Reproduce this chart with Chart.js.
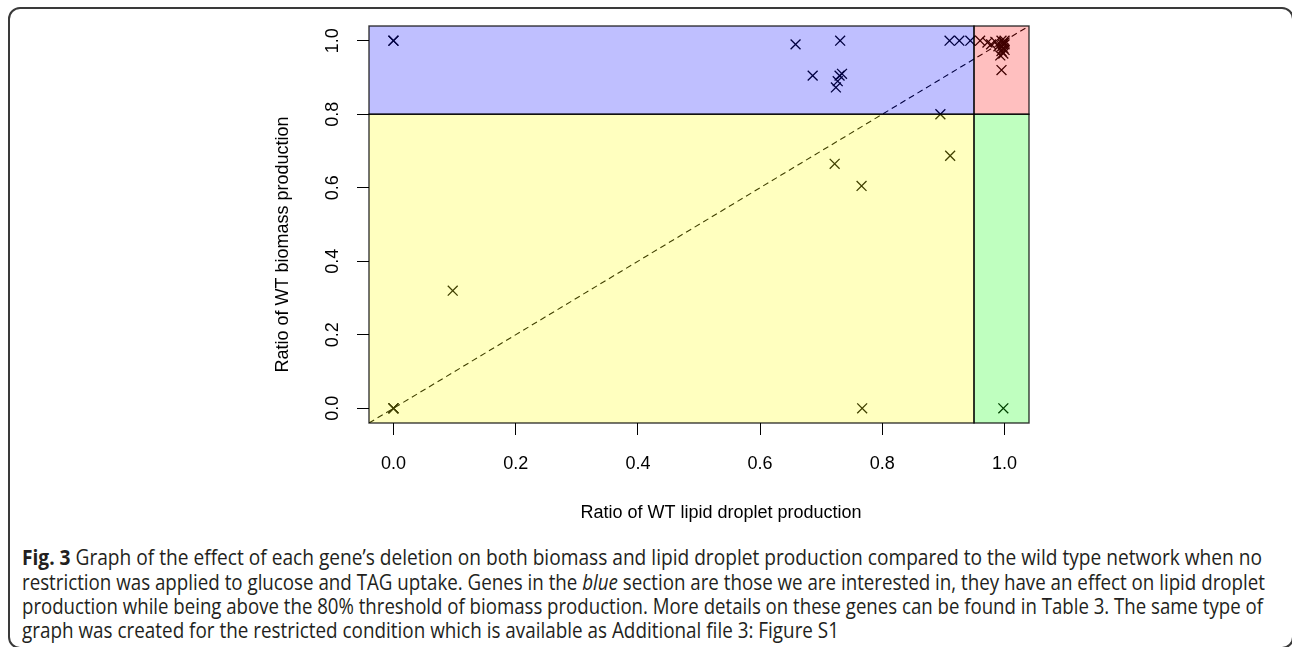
<!DOCTYPE html>
<html><head><meta charset="utf-8">
<script src="https://cdn.jsdelivr.net/npm/chart.js@4"></script>
<style>
html,body{margin:0;padding:0;background:#fff;}
body{width:1292px;height:647px;position:relative;overflow:hidden;}
#frame{position:absolute;left:8px;top:7px;width:1286px;height:642px;border:2px solid #3a3a3a;border-radius:12px;box-sizing:border-box;}
#c{position:absolute;left:0;top:0;}
.cap{position:absolute;left:22px;white-space:nowrap;font-family:"Open Sans";font-size:21px;color:#231f20;transform-origin:0 50%;line-height:24px;}
.cap b{font-weight:700;}
</style></head>
<body>
<div id="frame"></div>
<canvas id="c" width="1292" height="530"></canvas>
<div class="cap" style="top:545px"><b>Fig. 3</b> Graph of the effect of each gene’s deletion on both biomass and lipid droplet production compared to the wild type network when no</div>
<div class="cap" style="top:570px">restriction was applied to glucose and TAG uptake. Genes in the <i>blue</i> section are those we are interested in, they have an effect on lipid droplet</div>
<div class="cap" style="top:594px">production while being above the 80% threshold of biomass production. More details on these genes can be found in Table 3. The same type of</div>
<div class="cap" style="top:618px">graph was created for the restricted condition which is available as Additional file 3: Figure S1</div>
<script>
// ---- data ----
const lipidRatio = [0.0, 0.0, 0.0, 0.0, 0.0, 0.097, 0.658, 0.686, 0.731, 0.724, 0.727, 0.730, 0.734, 0.722, 0.766, 0.767, 0.998, 0.895, 0.911,
  0.910, 0.926, 0.944, 0.960, 0.972, 0.978, 0.985, 0.990, 0.995, 0.997, 0.998, 1.000, 1.000, 0.998, 0.995, 1.000, 0.993, 0.995, 1.000, 0.996];
const biomassRatio = [1.0, 1.0, 0.0, 0.0, 0.0, 0.320, 0.990, 0.905, 1.000, 0.873, 0.890, 0.905, 0.910, 0.665, 0.605, 0.000, 0.000, 0.800, 0.687,
  1.000, 1.000, 1.000, 1.000, 0.995, 0.990, 0.997, 0.985, 1.000, 0.990, 0.980, 1.000, 0.975, 0.965, 0.972, 0.990, 0.960, 0.920, 0.995, 0.985];
const diagX = [-0.04, 1.04];
const diagY = [-0.04, 1.04];
const lipidThreshold = 0.95;
const biomassThreshold = 0.8;
const axisMin = -0.04, axisMax = 1.04;
const xTickValues = [0, 0.2, 0.4, 0.6, 0.8, 1.0];
const xTickLabels = ["0.0", "0.2", "0.4", "0.6", "0.8", "1.0"];
const yTickValues = [0, 0.2, 0.4, 0.6, 0.8, 1.0];
const yTickLabels = ["0.0", "0.2", "0.4", "0.6", "0.8", "1.0"];
const xTitle = "Ratio of WT lipid droplet production";
const yTitle = "Ratio of WT biomass production";
const capWidths = [1240, 1243, 1241, 817];

const FONT = '"Liberation Sans", Arial, sans-serif';

const regions = [
  {x0: axisMin, x1: lipidThreshold, y0: biomassThreshold, y1: axisMax, color: 'rgba(0,0,255,0.25)'},
  {x0: axisMin, x1: lipidThreshold, y0: axisMin, y1: biomassThreshold, color: 'rgba(255,255,0,0.25)'},
  {x0: lipidThreshold, x1: axisMax, y0: biomassThreshold, y1: axisMax, color: 'rgba(255,0,0,0.25)'},
  {x0: lipidThreshold, x1: axisMax, y0: axisMin, y1: biomassThreshold, color: 'rgba(0,255,0,0.25)'}
];

const overlay = {
  id: 'overlay',
  afterDatasetsDraw(chart) {
    const {ctx, scales: {x, y}, chartArea: ca} = chart;
    ctx.save();
    regions.forEach(r => {
      const px0 = x.getPixelForValue(r.x0), px1 = x.getPixelForValue(r.x1);
      const py0 = y.getPixelForValue(r.y0), py1 = y.getPixelForValue(r.y1);
      ctx.fillStyle = r.color;
      ctx.fillRect(px0, py1, px1 - px0, py0 - py1);
    });
    ctx.strokeStyle = 'rgba(0,0,0,0.78)';
    ctx.lineWidth = 1.4;
    regions.forEach(r => {
      const px0 = x.getPixelForValue(r.x0), px1 = x.getPixelForValue(r.x1);
      const py0 = y.getPixelForValue(r.y0), py1 = y.getPixelForValue(r.y1);
      ctx.strokeRect(px0, py1, px1 - px0, py0 - py1);
    });
    // rotated y tick labels
    ctx.fillStyle = '#000';
    ctx.font = '18px ' + FONT;
    ctx.textAlign = 'center';
    ctx.textBaseline = 'middle';
    yTickValues.forEach((v, i) => {
      const py = y.getPixelForValue(v);
      ctx.save();
      ctx.translate(x.left - 36, py);
      ctx.rotate(-Math.PI / 2);
      ctx.fillText(yTickLabels[i], 0, 0);
      ctx.restore();
    });
    // axis titles
    ctx.fillText(xTitle, (ca.left + ca.right) / 2 + 22, ca.bottom + 90);
    ctx.save();
    ctx.translate(ca.left - 86, (ca.top + ca.bottom) / 2 + 20);
    ctx.rotate(-Math.PI / 2);
    ctx.fillText(yTitle, 0, 0);
    ctx.restore();
    ctx.restore();
  }
};

const points = lipidRatio.map((v, i) => ({x: v, y: biomassRatio[i]}));
const diag = diagX.map((v, i) => ({x: v, y: diagY[i]}));

new Chart(document.getElementById('c'), {
  type: 'scatter',
  data: {
    datasets: [
      {data: points, pointStyle: 'crossRot', pointRadius: 7, pointHoverRadius: 7, borderColor: '#000', backgroundColor: '#000', pointBorderWidth: 1.3, order: 2},
      {type: 'line', data: diag, borderColor: '#000', borderWidth: 1.1, borderDash: [6, 4], pointRadius: 0, fill: false, order: 1}
    ]
  },
  options: {
    responsive: false,
    animation: false,
    devicePixelRatio: 1,
    layout: {padding: {left: 265, top: 26, right: 263, bottom: 0}},
    plugins: {legend: {display: false}, tooltip: {enabled: false}},
    scales: {
      x: {
        type: 'linear', min: axisMin, max: axisMax,
        afterBuildTicks: s => { s.ticks = xTickValues.map(v => ({value: v})); },
        afterFit: s => { s.height = 107; },
        ticks: {callback: (v) => xTickLabels[xTickValues.indexOf(v)] ?? '', font: {family: FONT, size: 18}, color: '#000', padding: 18, maxRotation: 0, autoSkip: false},
        grid: {drawOnChartArea: false, drawTicks: true, tickLength: 12, color: '#000', lineWidth: 1},
        border: {display: false},
        title: {display: false}
      },
      y: {
        type: 'linear', min: axisMin, max: axisMax,
        afterBuildTicks: s => { s.ticks = yTickValues.map(v => ({value: v})); },
        afterFit: s => { s.width = 104; },
        ticks: {display: false},
        grid: {drawOnChartArea: false, drawTicks: true, tickLength: 12, color: '#000', lineWidth: 1},
        border: {display: false},
        title: {display: false}
      }
    }
  },
  plugins: [overlay]
});

document.querySelectorAll('.cap').forEach((el, i) => {
  const w = el.getBoundingClientRect().width;
  el.style.transform = 'scaleX(' + (capWidths[i] / w) + ')';
});
</script>
</body></html>
